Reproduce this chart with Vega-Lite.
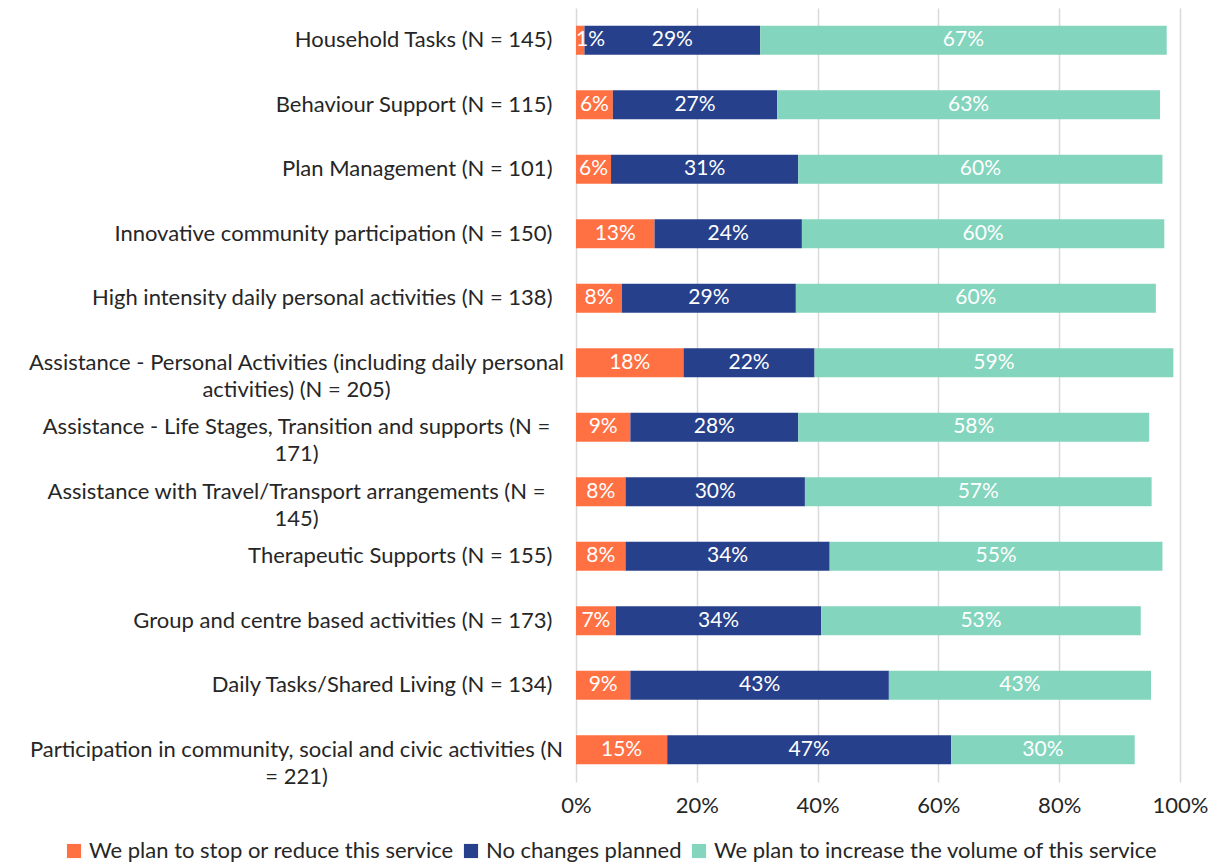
{
  "$schema": "https://vega.github.io/schema/vega-lite/v6.json",
  "autosize": {"type": "none"},
  "padding": {"left": 576, "top": 8, "right": 36, "bottom": 83},
  "width": 604,
  "height": 774,
  "config": {
    "font": "Lato",
    "view": {"stroke": null},
    "axis": {"labelFont": "Lato", "labelColor": "#262626", "labelFontSize": 22}
  },
  "data": {
    "values": [
      {"service": "Household Tasks (N = 145)", "series": "We plan to stop or reduce this service", "rank": 1, "share": 0.014},
      {"service": "Household Tasks (N = 145)", "series": "No changes planned", "rank": 2, "share": 0.291},
      {"service": "Household Tasks (N = 145)", "series": "We plan to increase the volume of this service", "rank": 3, "share": 0.673},
      {"service": "Behaviour Support (N = 115)", "series": "We plan to stop or reduce this service", "rank": 1, "share": 0.061},
      {"service": "Behaviour Support (N = 115)", "series": "No changes planned", "rank": 2, "share": 0.272},
      {"service": "Behaviour Support (N = 115)", "series": "We plan to increase the volume of this service", "rank": 3, "share": 0.634},
      {"service": "Plan Management (N = 101)", "series": "We plan to stop or reduce this service", "rank": 1, "share": 0.058},
      {"service": "Plan Management (N = 101)", "series": "No changes planned", "rank": 2, "share": 0.31},
      {"service": "Plan Management (N = 101)", "series": "We plan to increase the volume of this service", "rank": 3, "share": 0.603},
      {"service": "Innovative community participation  (N = 150)", "series": "We plan to stop or reduce this service", "rank": 1, "share": 0.13},
      {"service": "Innovative community participation  (N = 150)", "series": "No changes planned", "rank": 2, "share": 0.244},
      {"service": "Innovative community participation  (N = 150)", "series": "We plan to increase the volume of this service", "rank": 3, "share": 0.6},
      {"service": "High intensity daily personal activities (N = 138)", "series": "We plan to stop or reduce this service", "rank": 1, "share": 0.076},
      {"service": "High intensity daily personal activities (N = 138)", "series": "No changes planned", "rank": 2, "share": 0.288},
      {"service": "High intensity daily personal activities (N = 138)", "series": "We plan to increase the volume of this service", "rank": 3, "share": 0.596},
      {"service": "Assistance - Personal Activities (including daily personal|activities) (N = 205)", "series": "We plan to stop or reduce this service", "rank": 1, "share": 0.178},
      {"service": "Assistance - Personal Activities (including daily personal|activities) (N = 205)", "series": "No changes planned", "rank": 2, "share": 0.217},
      {"service": "Assistance - Personal Activities (including daily personal|activities) (N = 205)", "series": "We plan to increase the volume of this service", "rank": 3, "share": 0.594},
      {"service": "Assistance - Life Stages, Transition and supports (N =|171)", "series": "We plan to stop or reduce this service", "rank": 1, "share": 0.09},
      {"service": "Assistance - Life Stages, Transition and supports (N =|171)", "series": "No changes planned", "rank": 2, "share": 0.278},
      {"service": "Assistance - Life Stages, Transition and supports (N =|171)", "series": "We plan to increase the volume of this service", "rank": 3, "share": 0.581},
      {"service": "Assistance with Travel/Transport arrangements (N =|145)", "series": "We plan to stop or reduce this service", "rank": 1, "share": 0.082},
      {"service": "Assistance with Travel/Transport arrangements (N =|145)", "series": "No changes planned", "rank": 2, "share": 0.297},
      {"service": "Assistance with Travel/Transport arrangements (N =|145)", "series": "We plan to increase the volume of this service", "rank": 3, "share": 0.574},
      {"service": "Therapeutic Supports (N = 155)", "series": "We plan to stop or reduce this service", "rank": 1, "share": 0.082},
      {"service": "Therapeutic Supports (N = 155)", "series": "No changes planned", "rank": 2, "share": 0.338},
      {"service": "Therapeutic Supports (N = 155)", "series": "We plan to increase the volume of this service", "rank": 3, "share": 0.551},
      {"service": "Group and centre based activities (N = 173)", "series": "We plan to stop or reduce this service", "rank": 1, "share": 0.066},
      {"service": "Group and centre based activities (N = 173)", "series": "No changes planned", "rank": 2, "share": 0.34},
      {"service": "Group and centre based activities (N = 173)", "series": "We plan to increase the volume of this service", "rank": 3, "share": 0.529},
      {"service": "Daily Tasks/Shared Living (N = 134)", "series": "We plan to stop or reduce this service", "rank": 1, "share": 0.09},
      {"service": "Daily Tasks/Shared Living (N = 134)", "series": "No changes planned", "rank": 2, "share": 0.428},
      {"service": "Daily Tasks/Shared Living (N = 134)", "series": "We plan to increase the volume of this service", "rank": 3, "share": 0.434},
      {"service": "Participation in community, social and civic activities (N|= 221)", "series": "We plan to stop or reduce this service", "rank": 1, "share": 0.151},
      {"service": "Participation in community, social and civic activities (N|= 221)", "series": "No changes planned", "rank": 2, "share": 0.47},
      {"service": "Participation in community, social and civic activities (N|= 221)", "series": "We plan to increase the volume of this service", "rank": 3, "share": 0.304}
    ]
  },
  "transform": [
    {"stack": "share", "groupby": ["service"], "sort": [{"field": "rank", "order": "ascending"}], "as": ["x0", "x1"]}
  ],
  "encoding": {
    "y": {
      "field": "service",
      "type": "nominal",
      "sort": null,
      "title": null,
      "scale": {"paddingInner": 0.55, "paddingOuter": 0.275},
      "axis": {
        "domain": false,
        "ticks": false,
        "labelPadding": {"condition": {"test": "indexof(datum.label, '|') >= 0", "value": 280}, "value": 24},
        "labelAlign": {"condition": {"test": "indexof(datum.label, '|') >= 0", "value": "center"}, "value": "right"},
        "labelLimit": 700,
        "labelLineHeight": 27,
        "labelExpr": "split(datum.label, '|')"
      }
    }
  },
  "layer": [
    {
      "mark": {"type": "bar"},
      "encoding": {
        "x": {
          "field": "x0",
          "type": "quantitative",
          "scale": {"domain": [0, 1], "nice": false},
          "title": null,
          "axis": {
            "format": ".0%",
            "values": [0, 0.2, 0.4, 0.6, 0.8, 1],
            "domain": false,
            "ticks": false,
            "grid": true,
            "gridColor": "#d9d9d9",
            "gridWidth": 1.5,
            "labelFlush": false,
            "labelPadding": 13
          }
        },
        "x2": {"field": "x1"},
        "color": {
          "field": "series",
          "type": "nominal",
          "scale": {
            "domain": ["We plan to stop or reduce this service", "No changes planned", "We plan to increase the volume of this service"],
            "range": ["#FF7043", "#27408B", "#83D5BD"]
          },
          "legend": {
            "title": null,
            "orient": "none",
            "direction": "horizontal",
            "columns": 3,
            "legendX": -513,
            "legendY": 832,
            "symbolType": "square",
            "symbolSize": 200,
            "symbolStrokeWidth": 0,
            "labelFontSize": 22,
            "labelFont": "Lato",
            "labelColor": "#262626",
            "labelLimit": 600,
            "labelOffset": 4,
            "columnPadding": 6
          }
        }
      }
    },
    {
      "transform": [
        {"filter": "datum.share >= 0.03"},
        {"fold": ["x0", "x1"], "as": ["edge", "pos"]},
        {"aggregate": [{"op": "mean", "field": "pos", "as": "mid"}], "groupby": ["service", "series", "share"]}
      ],
      "mark": {"type": "text", "color": "white", "fontSize": 21, "font": "Lato", "baseline": "middle"},
      "encoding": {
        "x": {"field": "mid", "type": "quantitative"},
        "text": {"field": "share", "type": "quantitative", "format": ".0%"}
      }
    },
    {
      "transform": [
        {"filter": "datum.share < 0.03"}
      ],
      "mark": {"type": "text", "color": "white", "fontSize": 21, "font": "Lato", "baseline": "middle", "align": "left"},
      "encoding": {
        "x": {"field": "x0", "type": "quantitative"},
        "text": {"field": "share", "type": "quantitative", "format": ".0%"}
      }
    }
  ]
}
